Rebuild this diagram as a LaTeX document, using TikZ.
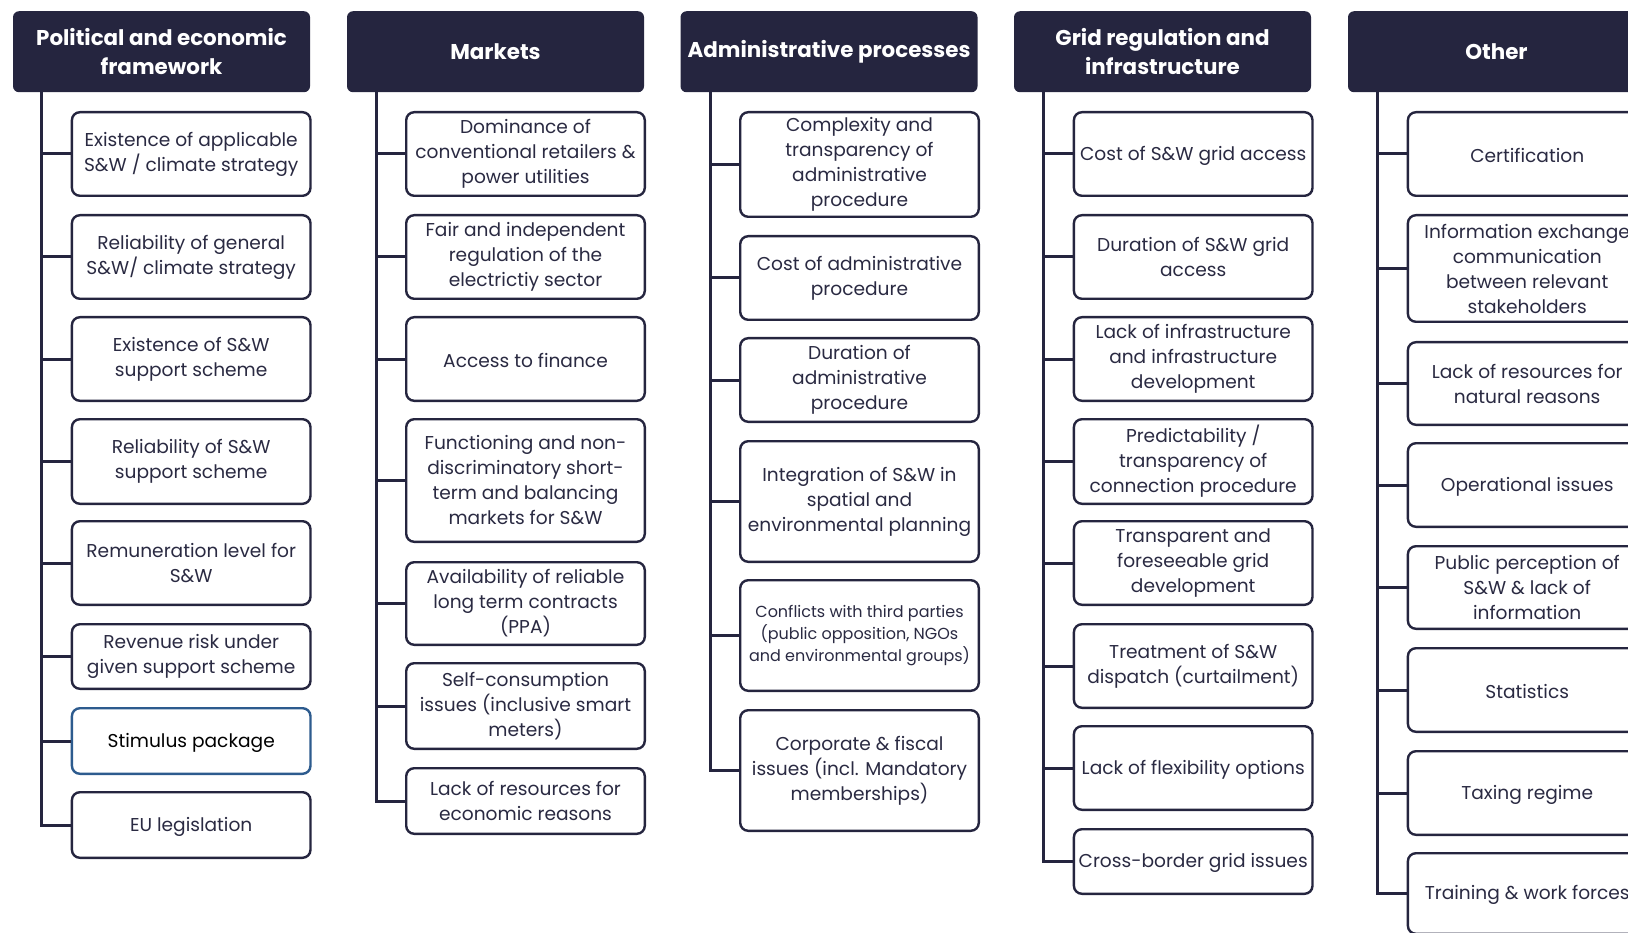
\documentclass[tikz,border=0pt]{standalone}
\usepackage{fontspec}
\setmainfont{Poppins}
\usetikzlibrary{calc}
\definecolor{navy}{HTML}{25253F}
\definecolor{ink}{HTML}{2A2A42}
\definecolor{stim}{HTML}{2D5B8E}
\newcommand\bx[6]{\node[box,#1,minimum height={(#5)-(#4)-2.4}] (#2) at (#3,{((#4)+(#5))/2}) {#6};}
\begin{document}
\begin{tikzpicture}[x=1pt,y=-1pt,
  hdr/.style={fill=navy, rounded corners=6pt, minimum width=297pt, minimum height=81pt, text=white, font=\fontsize{21.4}{29}\selectfont\bfseries, align=center, inner sep=0pt},
  box/.style={draw=navy, line width=2.4pt, rounded corners=8pt, fill=white, minimum width=238.6pt, text=ink, font=\fontsize{18.6}{25}\selectfont, align=center, inner sep=0pt, execute at begin node={\rule{0pt}{18pt}}},
  stimbox/.style={draw=stim, text=black},
  smallbox/.style={font=\fontsize{16}{22}\selectfont},
  conn/.style={draw=navy, line width=3pt}]
\useasboundingbox (0,0) rectangle (1628,933);
% headers
\node[hdr] (h1) at (161.5,51.75) {Political and economic\\framework};
\node[hdr] (h2) at (495.5,51.75) {Markets};
\node[hdr] (h3) at (829,51.75) {Administrative processes};
\node[hdr] (h4) at (1162.5,51.75) {Grid regulation and\\infrastructure};
\node[hdr] (h5) at (1496.5,51.75) {Other};
\coordinate (t1) at (41.7,90);
\coordinate (t2) at (376,90);
\coordinate (t3) at (710,90);
\coordinate (t4) at (1043.5,90);
\coordinate (t5) at (1377,90);
% column 1
\bx{}{a1}{191.2}{111}{197}{Existence of applicable\\S\&W / climate strategy}
\bx{}{a2}{191.2}{214}{300}{Reliability of general\\S\&W/ climate strategy}
\bx{}{a3}{191.2}{316}{402}{Existence of S\&W\\support scheme}
\bx{}{a4}{191.2}{418}{505}{Reliability of S\&W\\support scheme}
\bx{}{a5}{191.2}{520}{606}{Remuneration level for\\S\&W}
\bx{}{a6}{191.2}{623}{690}{Revenue risk under\\given support scheme}
\bx{stimbox}{a7}{191.2}{707}{775}{Stimulus package}
\bx{}{a8}{191.2}{791}{859}{EU legislation}
% column 2
\bx{}{b1}{525.5}{111}{197}{Dominance of\\conventional retailers \&\\power utilities}
\bx{}{b2}{525.5}{214}{300}{Fair and independent\\regulation of the\\electrictiy sector}
\bx{}{b3}{525.5}{316}{402}{Access to finance}
\bx{}{b4}{525.5}{418}{543}{Functioning and non-\\discriminatory short-\\term and balancing\\markets for S\&W}
\bx{}{b5}{525.5}{561}{646}{Availability of reliable\\long term contracts\\(PPA)}
\bx{}{b6}{525.5}{662}{750}{Self-consumption\\issues (inclusive smart\\meters)}
\bx{}{b7}{525.5}{767}{835}{Lack of resources for\\economic reasons}
% column 3
\bx{}{c1}{859.5}{111}{218}{Complexity and\\transparency of\\administrative\\procedure}
\bx{}{c2}{859.5}{235}{321}{Cost of administrative\\procedure}
\bx{}{c3}{859.5}{337}{423}{Duration of\\administrative\\procedure}
\bx{}{c4}{859.5}{440}{563}{Integration of S\&W in\\spatial and\\environmental planning}
\bx{smallbox}{c5}{859.5}{579}{692}{Conflicts with third parties\\(public opposition, NGOs\\and environmental groups)}
\bx{}{c6}{859.5}{709}{832}{Corporate \& fiscal\\issues (incl. Mandatory\\memberships)}
% column 4
\bx{}{d1}{1193.2}{111}{197}{Cost of S\&W grid access}
\bx{}{d2}{1193.2}{214}{300}{Duration of S\&W grid\\access}
\bx{}{d3}{1193.2}{316}{402}{Lack of infrastructure\\and infrastructure\\development}
\bx{}{d4}{1193.2}{418}{505}{Predictability /\\transparency of\\connection procedure}
\bx{}{d5}{1193.2}{520}{606}{Transparent and\\foreseeable grid\\development}
\bx{}{d6}{1193.2}{623}{709}{Treatment of S\&W\\dispatch (curtailment)}
\bx{}{d7}{1193.2}{725}{811}{Lack of flexibility options}
\bx{}{d8}{1193.2}{828}{895}{Cross-border grid issues}
% column 5
\bx{}{e1}{1527.2}{111}{197}{Certification}
\bx{}{e2}{1527.2}{214}{323}{Information exchange\\communication\\between relevant\\stakeholders}
\bx{}{e3}{1527.2}{341}{426}{Lack of resources for\\natural reasons}
\bx{}{e4}{1527.2}{442}{528}{Operational issues}
\bx{}{e5}{1527.2}{545}{630}{Public perception of\\S\&W \& lack of\\information}
\bx{}{e6}{1527.2}{647}{733}{Statistics}
\bx{}{e7}{1527.2}{750}{836}{Taxing regime}
\bx{}{e8}{1527.2}{852}{935}{Training \& work forces}
% connectors
\foreach \n in {a1,a2,a3,a4,a5,a6,a7,a8} {\draw[conn] (t1) |- (\n.west);}
\foreach \n in {b1,b2,b3,b4,b5,b6,b7} {\draw[conn] (t2) |- (\n.west);}
\foreach \n in {c1,c2,c3,c4,c5,c6} {\draw[conn] (t3) |- (\n.west);}
\foreach \n in {d1,d2,d3,d4,d5,d6,d7,d8} {\draw[conn] (t4) |- (\n.west);}
\foreach \n in {e1,e2,e3,e4,e5,e6,e7,e8} {\draw[conn] (t5) |- (\n.west);}
\end{tikzpicture}
\end{document}
